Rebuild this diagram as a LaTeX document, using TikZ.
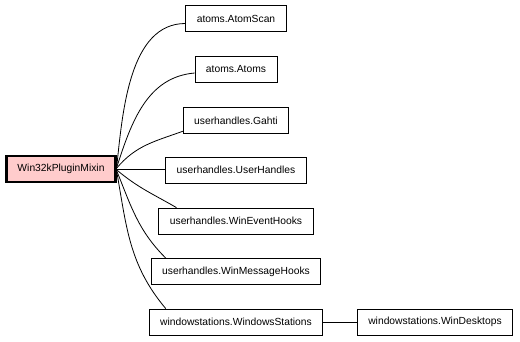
\documentclass[tikz,border=0pt]{standalone}
\usepackage{fontspec}
\setmainfont{Liberation Sans}
\definecolor{mixinpink}{RGB}{255,204,204}

\begin{document}
\begin{tikzpicture}[x=1pt,y=-1pt,
  cls/.style={draw, line width=0.8pt, minimum height=26, inner xsep=11,
    font=\fontsize{10.3}{12}\selectfont},
  root/.style={cls, line width=2.6pt, fill=mixinpink},
  dep/.style={line width=0.8pt}]
\useasboundingbox (0,0) rectangle (520,341);
%mixin
\node[root] (mixin) at (61,169) {Win32kPluginMixin};
%classes used by the mixin
\node[cls] (atomscan) at (236,18.5) {atoms.AtomScan};
\node[cls] (atoms) at (236,69) {atoms.Atoms};
\node[cls] (gahti) at (236,120.5) {userhandles.Gahti};
\node[cls] (uhandles) at (236,170) {userhandles.UserHandles};
\node[cls] (evhooks) at (236,221) {userhandles.WinEventHooks};
\node[cls] (msghooks) at (236,271.5) {userhandles.WinMessageHooks};
\node[cls] (wstations) at (236,322) {windowstations.WindowsStations};
\node[cls] (desktops) at (435,322) {windowstations.WinDesktops};
%links from mixin
\draw[dep] ([yshift=3]mixin.east) to[out=84,in=180,looseness=0.9] ([yshift=-5]atomscan.west);
\draw[dep] ([yshift=2]mixin.east) to[out=72,in=185] ([yshift=-4]atoms.west);
\draw[dep] ([yshift=1]mixin.east) to[out=50,in=200] ([xshift=1,yshift=3]gahti.south west);
\draw[dep] (mixin.east) -- (mixin.east -| uhandles.west);
\draw[dep] ([yshift=-1]mixin.east) to[out=-40,in=150] ([xshift=18]evhooks.north west);
\draw[dep] ([yshift=-2]mixin.east) to[out=-68,in=135] ([xshift=15]msghooks.north west);
\draw[dep] ([yshift=-3]mixin.east) to[out=-80,in=130] ([xshift=17]wstations.north west);
%desktops hang off the stations
\draw[dep] (wstations) -- (desktops);
\end{tikzpicture}
\end{document}
